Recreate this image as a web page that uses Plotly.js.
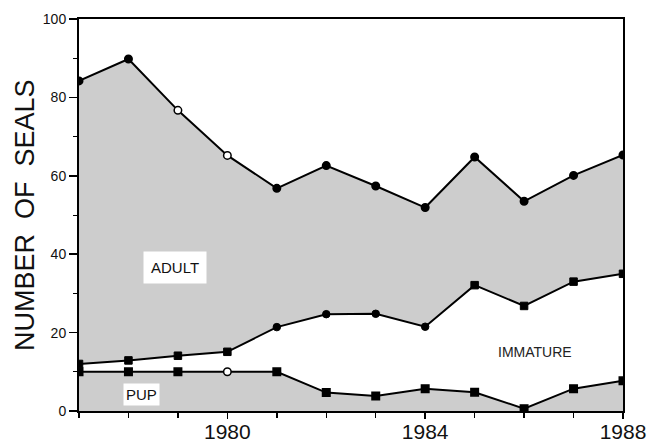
<!DOCTYPE html>
<html>
<head>
<meta charset="utf-8">
<script src="https://cdn.plot.ly/plotly-3.0.1.min.js"></script>
<style>html,body{margin:0;padding:0;background:#fff}#chart{width:653px;height:445px}</style>
</head>
<body>
<div id="chart"></div>
<script>
const years = [1977,1978,1979,1980,1981,1982,1983,1984,1985,1986,1987,1988];
const totalSeals = [84.2,89.8,76.7,65.2,56.8,62.6,57.4,51.9,64.8,53.5,60.1,65.3];
const immaturePlusPup = [12,12.9,14.1,15.1,21.4,24.7,24.8,21.5,32.1,26.8,33.0,35.0];
const pupSeals = [10,10,10,10,10,4.7,3.8,5.7,4.8,0.6,5.7,7.7];
const totalSymbols = ['circle','circle','circle','circle','circle','circle','circle','circle','circle','circle','circle','circle'];
const totalColors = ['#000','#000','#fff','#fff','#000','#000','#000','#000','#000','#000','#000','#000'];
const upperSymbols = ['square','square','square','square','circle','circle','circle','circle','square','square','square','square'];
const pupSymbols = ['square','square','square','circle','square','square','square','square','square','square','square','square'];
const pupColors = ['#000','#000','#000','#fff','#000','#000','#000','#000','#000','#000','#000','#000'];
const xTickVals = [1980,1984,1988];
const xTickText = ['1980','1984','1988'];
const yTickVals = [0,20,40,60,80,100];

const gray = '#cdcdcd';
const lineStyle = {color:'#000', width:2};

const traces = [
  {x:years, y:totalSeals, mode:'lines+markers', fill:'tozeroy', fillcolor:gray, line:lineStyle,
   marker:{symbol:totalSymbols, color:totalColors, size:7.5, line:{color:'#000', width:1.5}}, hoverinfo:'none'},
  {x:years, y:immaturePlusPup, mode:'lines+markers', fill:'tozeroy', fillcolor:'#ffffff', line:lineStyle,
   marker:{symbol:upperSymbols, color:'#000', size:7.5, line:{color:'#000', width:1}}, hoverinfo:'none'},
  {x:years, y:pupSeals, mode:'lines+markers', fill:'tozeroy', fillcolor:gray, line:lineStyle,
   marker:{symbol:pupSymbols, color:pupColors, size:7.5, line:{color:'#000', width:1.5}}, hoverinfo:'none'}
];

const layout = {
  width:653, height:445,
  margin:{l:79, r:30, t:19, b:33.5},
  paper_bgcolor:'#fff', plot_bgcolor:'#fff',
  showlegend:false,
  font:{family:'Liberation Sans, Arial, sans-serif', color:'#111'},
  xaxis:{range:[1977,1988], tickvals:xTickVals, ticktext:xTickText, ticks:'outside', ticklen:6, tickwidth:1.5,
    tickcolor:'#000', showgrid:false, zeroline:false, showline:true, linecolor:'#000', linewidth:2, mirror:true,
    tickfont:{size:21, color:'#111'}, ticklabelstandoff:-5, layer:'above traces',
    minor:{tickvals:years, ticks:'outside', ticklen:5, tickwidth:1.5, tickcolor:'#000', showgrid:false}},
  yaxis:{range:[0,100], tickvals:yTickVals, ticks:'outside', ticklen:8, tickwidth:1.5, tickcolor:'#000',
    showgrid:false, zeroline:false, showline:true, linecolor:'#000', linewidth:2, mirror:true,
    tickfont:{size:14, color:'#111'}, layer:'above traces',
    minor:{dtick:10, ticks:'outside', ticklen:4, tickwidth:1, tickcolor:'#000', showgrid:false}},
  annotations:[
    {text:'NUMBER  OF  SEALS', xref:'paper', yref:'paper', x:0, y:0.5, xanchor:'center', yanchor:'middle',
     xshift:-54, textangle:-90, showarrow:false, font:{size:27, color:'#111'}},
    {text:'ADULT', x:1978.95, y:36.6, showarrow:false, bgcolor:'#fff', borderpad:7, font:{size:15, color:'#111'}},
    {text:'PUP', x:1978.26, y:4.1, showarrow:false, bgcolor:'#fff', borderpad:2, font:{size:15, color:'#111'}},
    {text:'IMMATURE', x:1986.23, y:15.0, showarrow:false, font:{size:14, color:'#222'}}
  ]
};

Plotly.newPlot('chart', traces, layout, {staticPlot:true, displayModeBar:false});
</script>
</body>
</html>
